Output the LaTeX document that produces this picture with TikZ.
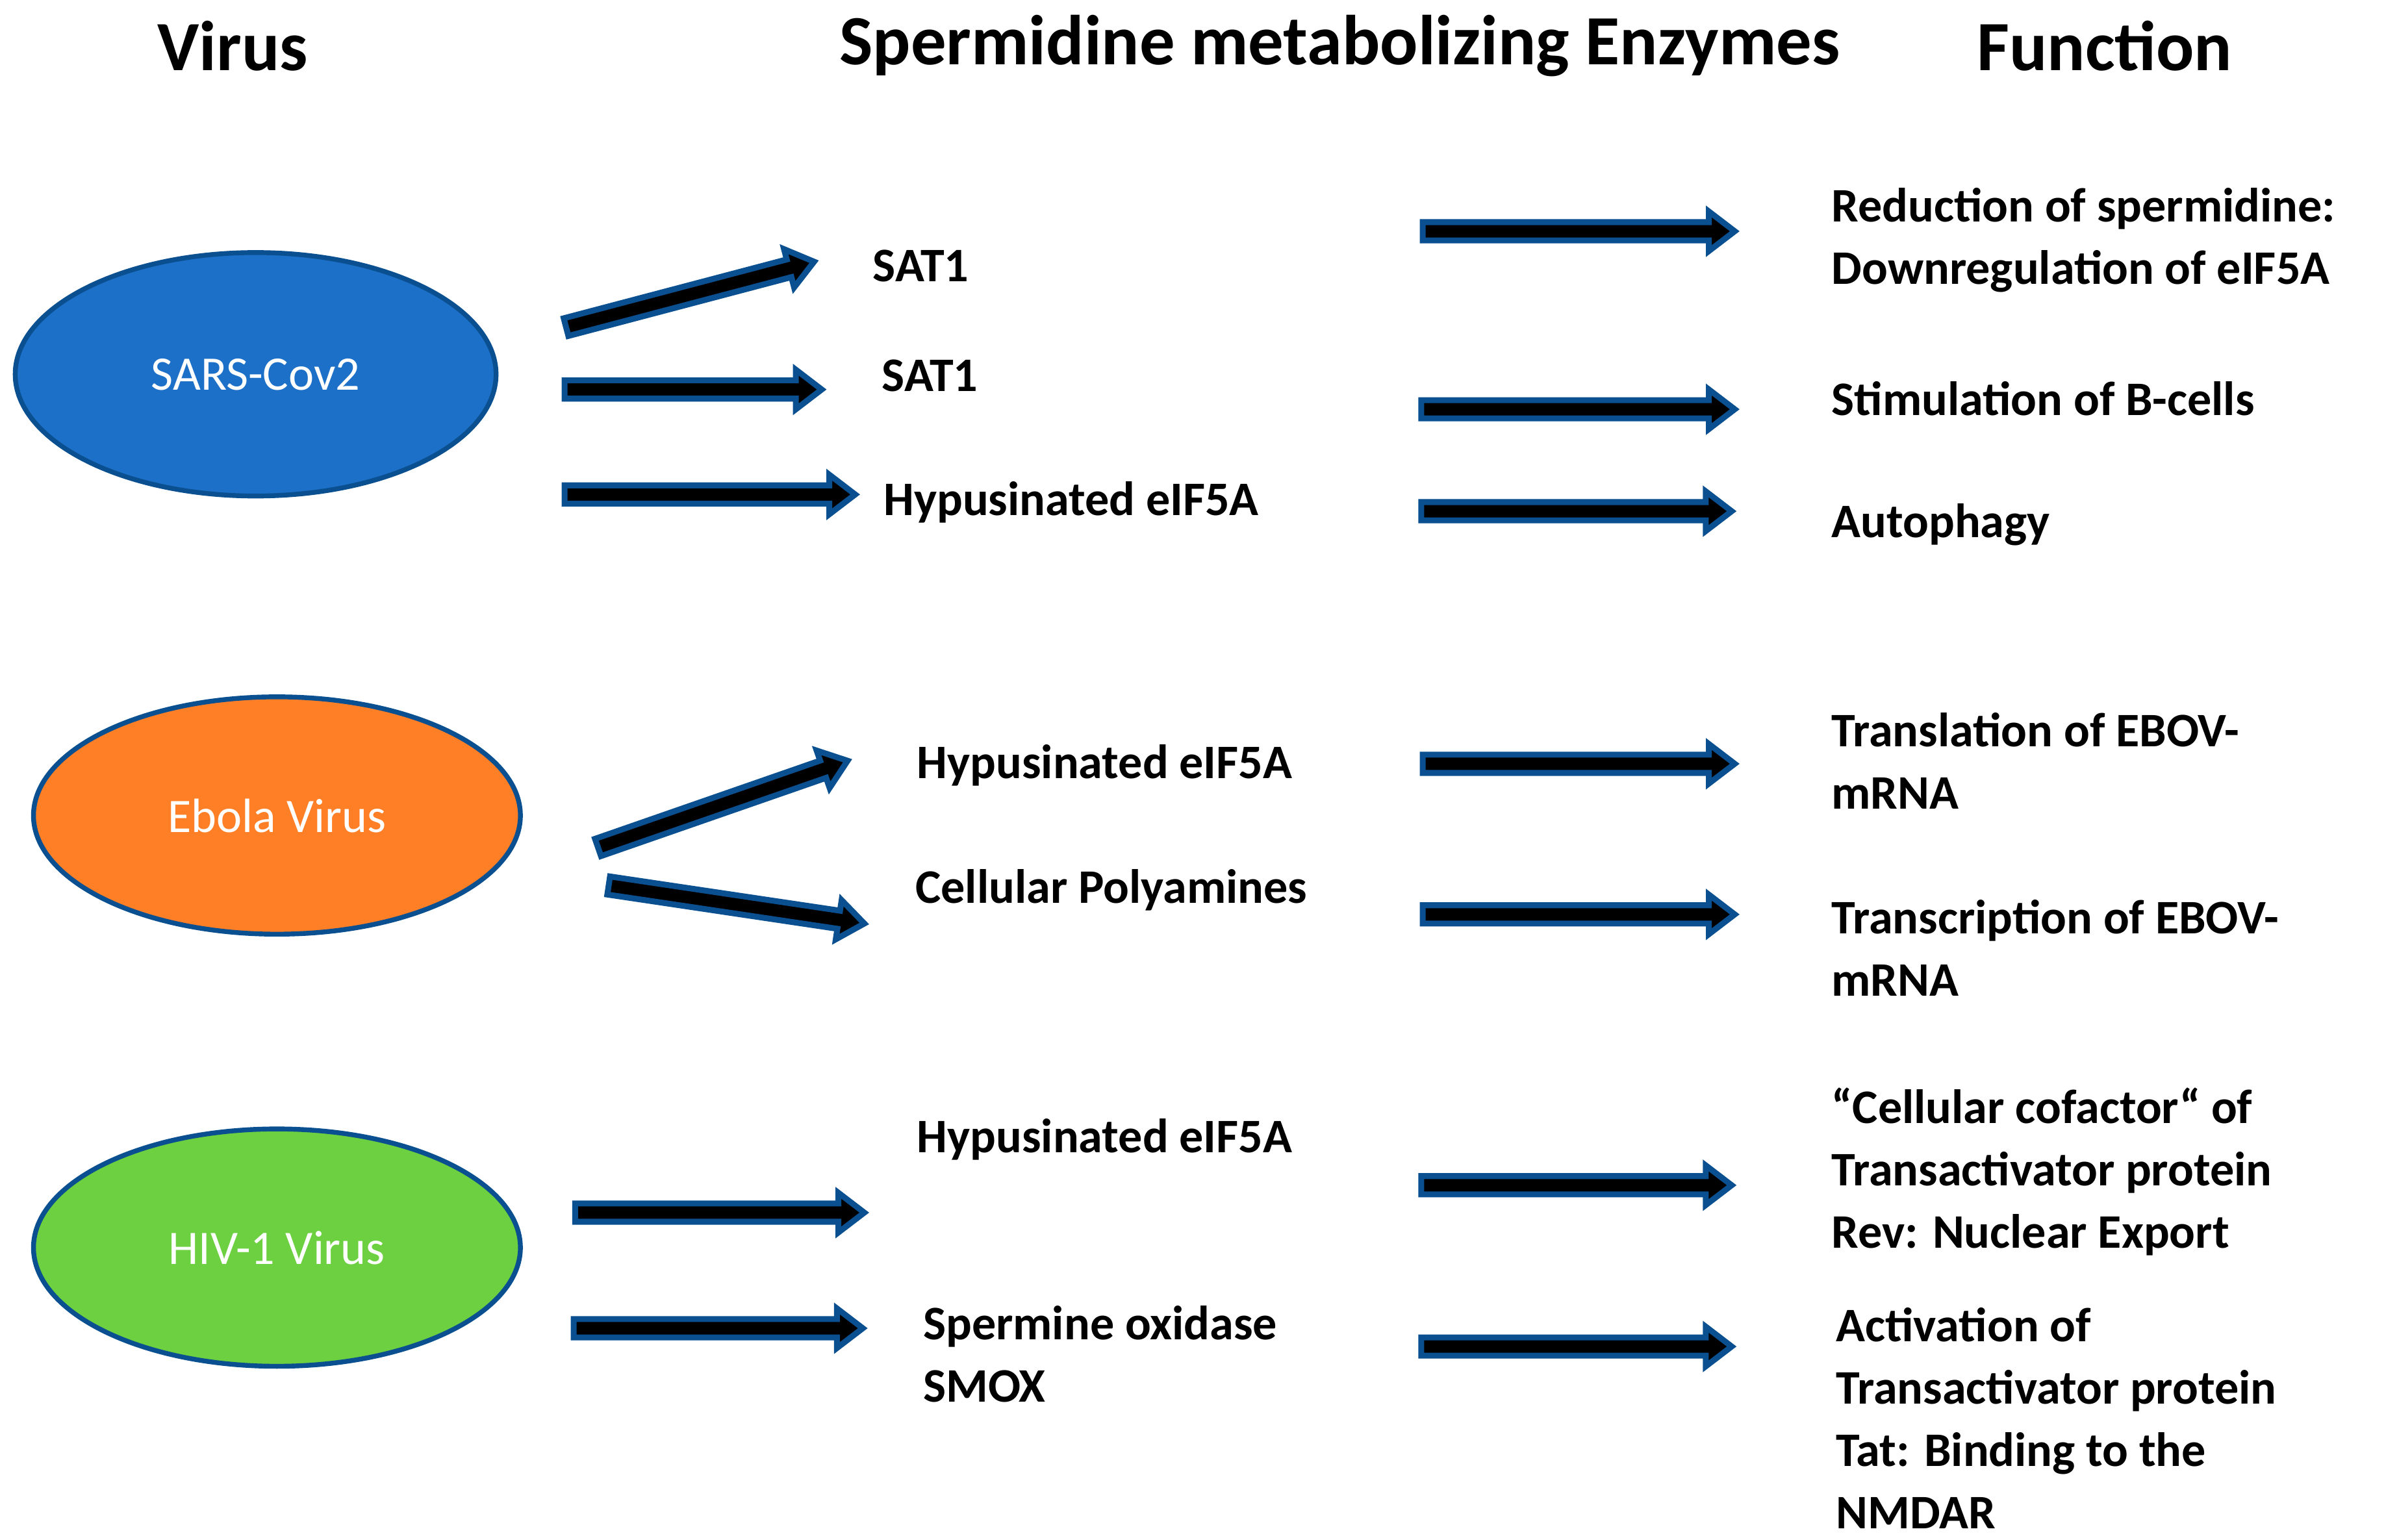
\documentclass[tikz,border=0pt]{standalone}
\usepackage{fontspec}
\setmainfont{Carlito}
\usetikzlibrary{calc}
\definecolor{edge}{HTML}{0A4F8F}
\definecolor{sarsc}{HTML}{1C70C8}
\definecolor{ebolac}{HTML}{FF7F27}
\definecolor{hivc}{HTML}{6CD040}
\newcommand{\blkarrow}[2]{%
  \coordinate (hh) at ($(#2)!0.17cm!(#1)$);
  \filldraw[fill=black,draw=edge,line width=1.1pt,line join=miter]
    ($(#1)!0.06cm!90:(#2)$) -- ($(hh)!0.06cm!90:(#2)$) -- ($(hh)!0.13cm!90:(#2)$) -- (#2)
    -- ($(hh)!0.13cm!-90:(#2)$) -- ($(hh)!0.06cm!-90:(#2)$) -- ($(#1)!0.06cm!-90:(#2)$) -- cycle;}
\begin{document}
\begin{tikzpicture}[x=0.01cm,y=-0.01cm,
  title/.style={font=\fontsize{13.2}{15}\selectfont\bfseries},
  lab/.style={font=\fontsize{9}{11.66}\selectfont\bfseries,anchor=west,align=left,inner sep=0pt},
  ]
\useasboundingbox (0,0) rectangle (1568,1012);
\node[title] (t1) at (153,30) {Virus};
\node[title,anchor=west,inner sep=0pt] (t2) at (551,30) {Spermidine metabolizing Enzymes};
\node[title] (t3) at (1383,30) {Function};
\draw[fill=sarsc,draw=edge,line width=0.9pt] (168,246) ellipse [x radius=158,y radius=80];
\node[text=white,font=\fontsize{9}{11}\selectfont] (sars) at (168,246) {SARS-Cov2};
\draw[fill=ebolac,draw=edge,line width=0.9pt] (182,536) ellipse [x radius=160,y radius=78];
\node[text=white,font=\fontsize{9}{11}\selectfont] (ebola) at (182,536) {Ebola Virus};
\draw[fill=hivc,draw=edge,line width=0.9pt] (182,820) ellipse [x radius=160,y radius=78];
\node[text=white,font=\fontsize{9}{11}\selectfont] (hiv) at (182,820) {HIV-1 Virus};

\node[lab] (e1) at (573,175) {SAT1};
\node[lab] (e2) at (579,247) {SAT1};
\node[lab] (e3) at (580,330) {Hypusinated eIF5A};
\node[lab] (e4) at (602,503) {Hypusinated eIF5A};
\node[lab] (e5) at (601,585) {Cellular Polyamines};
\node[lab] (e6) at (602,749) {Hypusinated eIF5A};
\node[lab] (e7) at (606,890) {Spermine oxidase\\SMOX};

\node[lab] (f1) at (1203,158) {Reduction of spermidine:\\Downregulation of eIF5A};
\node[lab] (f2) at (1203,262) {Stimulation of B-cells};
\node[lab] (f3) at (1203,345) {Autophagy};
\node[lab] (f4) at (1203,500) {Translation of EBOV-\\mRNA};
\node[lab] (f5) at (1203,623) {Transcription of EBOV-\\mRNA};
\node[lab] (f6) at (1203,770) {“Cellular cofactor“ of\\Transactivator protein\\Rev: Nuclear Export};
\node[lab] (f7) at (1206,932) {Activation of\\Transactivator protein\\Tat: Binding to the\\NMDAR};

\foreach \n/\ax/\ay/\bx/\by in {a1/372/215/535/172, a2/371/256/540/256, a3/371/325/562/325,
  b1/935/152/1140/152, b2/934/269/1140/269, b3/934/336/1138/336,
  a4/393/557/557/500, a5/400/582/568/607,
  b4/935/502/1140/502, b5/935/601/1140/601,
  a6/378/797/568/797, a7/377/873/567/873,
  b6/934/779/1138/779, b7/934/885/1138/885}{
  \coordinate (\n s) at (\ax,\ay);
  \coordinate (\n t) at (\bx,\by);
  \blkarrow{\n s}{\n t}
}
\end{tikzpicture}
\end{document}
